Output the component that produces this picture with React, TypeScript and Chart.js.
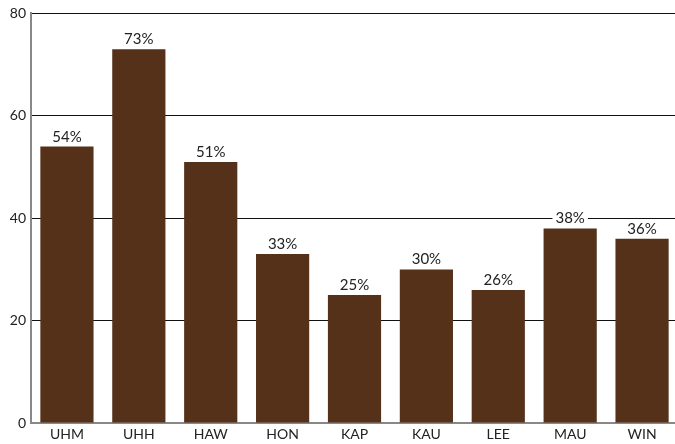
import React, { useEffect, useRef } from "react";
import { Chart, registerables } from "chart.js";

Chart.register(...registerables);

const categories = ["UHM", "UHH", "HAW", "HON", "KAP", "KAU", "LEE", "MAU", "WIN"];
const values = [54, 73, 51, 33, 25, 30, 26, 38, 36];
const yTicks = [0, 20, 40, 60, 80];

const FONT = "Lato, 'Open Sans', sans-serif";

const labelPlugin = {
  id: "barLabels",
  afterDatasetsDraw(chart: any) {
    const ctx = chart.ctx;
    const meta = chart.getDatasetMeta(0);
    ctx.save();
    ctx.font = `15px ${FONT}`;
    ctx.textAlign = "center";
    ctx.textBaseline = "alphabetic";
    meta.data.forEach((bar: any, i: number) => {
      const text = `${values[i]}%`;
      const w = ctx.measureText(text).width;
      const baseY = bar.y - 5;
      ctx.fillStyle = "#ffffff";
      ctx.fillRect(bar.x - w / 2 - 3, baseY - 13, w + 6, 16);
      ctx.fillStyle = "#222222";
      ctx.fillText(text, bar.x, baseY);
    });
    ctx.restore();
  },
};

export default function App() {
  const ref = useRef<HTMLCanvasElement | null>(null);
  useEffect(() => {
    if (!ref.current) return;
    const chart = new Chart(ref.current, {
      type: "bar",
      data: {
        labels: categories,
        datasets: [
          {
            data: values,
            backgroundColor: "#55311a",
            borderWidth: 0,
            barPercentage: 0.74,
            categoryPercentage: 1,
          },
        ],
      },
      options: {
        animation: false,
        responsive: false,
        maintainAspectRatio: false,
        layout: { padding: { top: 11, right: 0, left: 0, bottom: 0 } },
        plugins: { legend: { display: false }, tooltip: { enabled: false } },
        scales: {
          x: {
            grid: { display: false, drawTicks: false, tickLength: 0 },
            border: { display: true, color: "#888888", width: 2 },
            ticks: { color: "#222222", font: { family: FONT, size: 14 }, padding: 3, maxRotation: 0 },
            afterFit: (s: any) => {
              s.height = 21;
            },
          },
          y: {
            min: 0,
            max: 80,
            afterBuildTicks: (s: any) => {
              s.ticks = yTicks.map((v) => ({ value: v }));
            },
            grid: {
              color: (c: any) => (c.tick && c.tick.value === 0 ? "rgba(0,0,0,0)" : "#111111"),
              lineWidth: 1,
              drawTicks: false,
            },
            border: { display: true, color: "#888888", width: 2 },
            ticks: { color: "#222222", font: { family: FONT, size: 14 }, padding: 5 },
            afterFit: (s: any) => {
              s.width = 31;
            },
          },
        },
      },
      plugins: [labelPlugin],
    });
    return () => chart.destroy();
  }, []);
  return (
    <div style={{ position: "fixed", left: 0, top: 0, width: 675, height: 444, overflow: "hidden", background: "#fff" }}>
      <canvas ref={ref} width={678} height={444} style={{ width: 678, height: 444, display: "block" }} />
    </div>
  );
}
